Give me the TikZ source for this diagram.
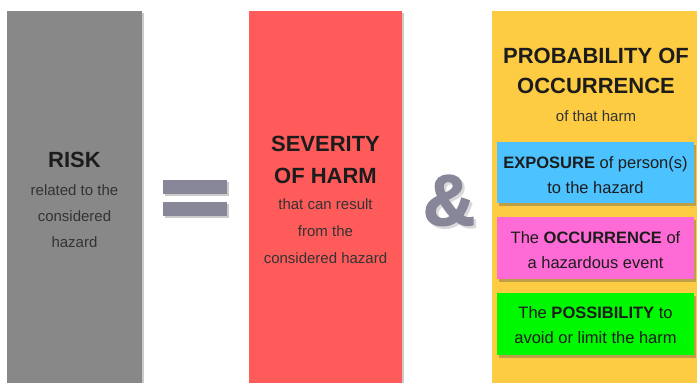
\documentclass[tikz,border=0pt]{standalone}
\usepackage{fontspec}
\setmainfont{Liberation Sans}
\newfontfamily\ampfont[FakeBold=2.2]{Liberation Sans Bold}
\usetikzlibrary{shadows}
\definecolor{riskgray}{HTML}{888888}
\definecolor{sevred}{HTML}{FF5B5B}
\definecolor{probyellow}{HTML}{FECC42}
\definecolor{expblue}{HTML}{4CC2FE}
\definecolor{occpink}{HTML}{FF6BD6}
\definecolor{posgreen}{HTML}{00F800}
\definecolor{opgray}{HTML}{878799}
\definecolor{ampshade}{HTML}{D9D9DC}
\definecolor{ink}{HTML}{1C1C1C}
\tikzset{
  column/.style={draw=none, inner sep=0pt,
    drop shadow={shadow xshift=1.5pt, shadow yshift=-1.5pt, opacity=0.35, fill=black!60}},
  factor/.style={draw=none, inner sep=0pt,
    drop shadow={shadow xshift=2pt, shadow yshift=-2.5pt, opacity=0.35, fill=black!70}},
  opbar/.style={fill=opgray, draw=none,
    drop shadow={shadow xshift=1.5pt, shadow yshift=-1.5pt, opacity=0.35, fill=black!60}},
  title/.style={anchor=base, inner sep=0pt, text=ink, font=\fontsize{22}{26}\selectfont\bfseries},
  sub/.style={anchor=base, inner sep=0pt, text=ink!90, font=\fontsize{15}{18}\selectfont},
  ftext/.style={anchor=base, inner sep=0pt, text=ink, font=\fontsize{16.5}{20}\selectfont},
  ampglyph/.style={anchor=base, inner sep=0pt, font=\fontsize{72}{72}\selectfont\ampfont},
}
\begin{document}
\begin{tikzpicture}[x=1pt, y=-1pt]
\useasboundingbox (0,0) rectangle (697,383);

% three main columns
\path[column, fill=riskgray]   (7,11)   rectangle (142,386);
\path[column, fill=sevred]     (249,11) rectangle (402,386);
\path[column, fill=probyellow] (492,11) rectangle (700,386);

% left column: risk
\node[title] (risk) at (74.5,167) {RISK};
\node[sub] (risk1) at (74.5,195) {related to the};
\node[sub] (risk2) at (74.5,221) {considered};
\node[sub] (risk3) at (74.5,247) {hazard};

% equals sign
\path[opbar] (163,180) rectangle (227,194);
\path[opbar] (163,202) rectangle (227,216);

% middle column: severity
\node[title] (sev1) at (325.5,151) {SEVERITY};
\node[title] (sev2) at (325.5,183) {OF HARM};
\node[sub] (sev3) at (325.5,209) {that can result};
\node[sub] (sev4) at (325.5,236) {from the};
\node[sub] (sev5) at (325.5,263) {considered hazard};

% ampersand with a light offset shade behind it
\node[ampglyph] (amp) at (449,225)
  {\makebox[0pt][l]{\hspace{2.5pt}\raisebox{-2.5pt}{\textcolor{ampshade}{\&}}}\textcolor{opgray}{\&}};

% right column: probability
\node[title] (prob1) at (596,63) {PROBABILITY OF};
\node[title] (prob2) at (596,93) {OCCURRENCE};
\node[sub] (prob3) at (596,121) {of that harm};

\path[factor, fill=expblue]   (497,142) rectangle (694,203);
\path[factor, fill=occpink]   (497,217) rectangle (694,279);
\path[factor, fill=posgreen]  (497,293) rectangle (694,355);

\node[ftext] (exp1) at (595.5,168) {\textbf{EXPOSURE} of person(s)};
\node[ftext] (exp2) at (595.5,193) {to the hazard};
\node[ftext] (occ1) at (595.5,243) {The \textbf{OCCURRENCE} of};
\node[ftext] (occ2) at (595.5,268) {a hazardous event};
\node[ftext] (pos1) at (595.5,318) {The \textbf{POSSIBILITY} to};
\node[ftext] (pos2) at (595.5,343) {avoid or limit the harm};
\end{tikzpicture}
\end{document}
